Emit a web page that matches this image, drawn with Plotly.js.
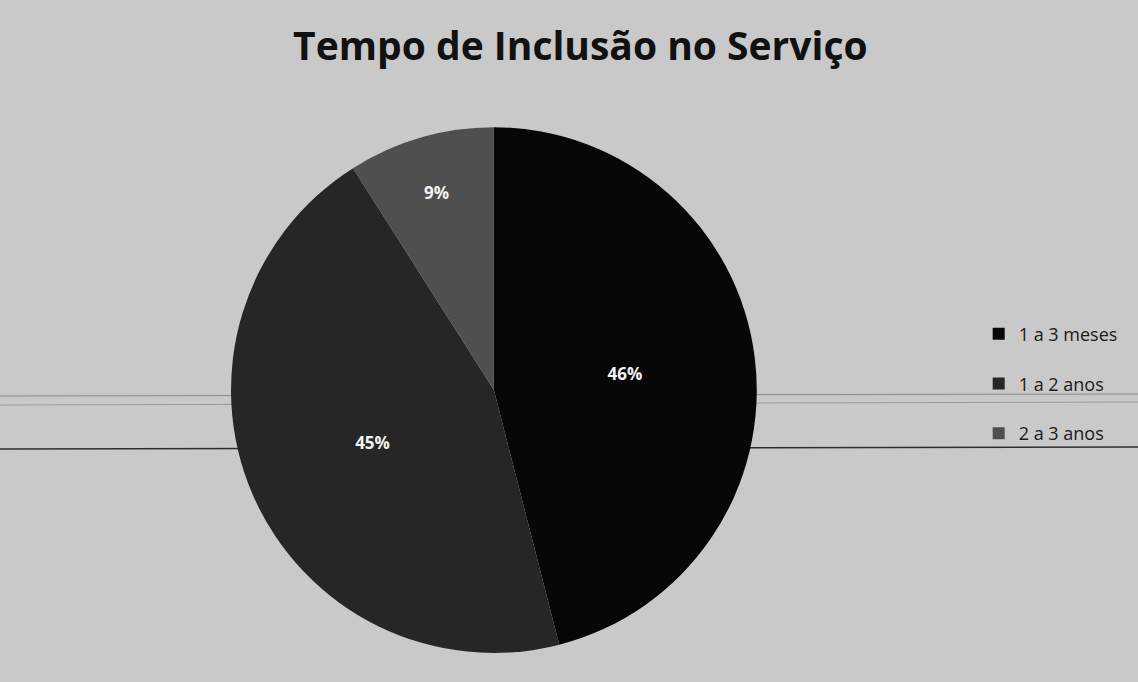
<!DOCTYPE html>
<html>
<head>
<meta charset="utf-8">
<script src="https://cdn.plot.ly/plotly-3.0.1.min.js"></script>
<style>html,body{margin:0;padding:0;background:#c9c9c9;}#chart{width:1138px;height:682px;}</style>
</head>
<body>
<div id="chart"></div>
<script>
const categories = ["1 a 3 meses", "1 a 2 anos", "2 a 3 anos"];
const values = [46, 45, 9];
const sliceColors = ["#070707", "#262626", "#4f4f4f"];
const chartTitle = "Tempo de Inclusão no Serviço";

// legend entries get an empty second line so the entries are spaced like the original
const legendLabels = categories.map(c => c + "<br> ");

const data = [{
  type: "pie",
  labels: legendLabels,
  values: values,
  sort: false,
  direction: "clockwise",
  rotation: 0,
  marker: {colors: sliceColors, line: {width: 0}},
  texttemplate: "%{percent:.0%}",
  textposition: "inside",
  insidetextorientation: "horizontal",
  textfont: {family: "Open Sans, sans-serif", size: 17, color: "#f2f2f2", weight: "bold"},
  domain: {x: [0.203, 0.665], y: [0.042, 0.814]},
  hovertemplate: "%{customdata}: %{percent:.0%}<extra></extra>",
  customdata: categories
}];

const layout = {
  width: 1138, height: 682,
  paper_bgcolor: "#c9c9c9",
  plot_bgcolor: "#c9c9c9",
  margin: {l: 0, r: 0, t: 0, b: 0},
  title: {
    text: "<b>" + chartTitle + "</b>",
    font: {family: "Open Sans, sans-serif", size: 39, color: "#111"},
    x: 0.51, xanchor: "center", y: 0.932, yanchor: "middle"
  },
  showlegend: true,
  legend: {
    x: 0.86, xanchor: "left", y: 0.42, yanchor: "middle",
    font: {family: "Open Sans, sans-serif", size: 18, color: "#1a1a1a"},
    bgcolor: "rgba(0,0,0,0)",
    itemwidth: 30,
    valign: "top"
  },
  shapes: [
    {type: "line", xref: "paper", yref: "paper", x0: 0, x1: 1, y0: 1 - 449/682, y1: 1 - 447/682, line: {color: "#2e2e2e", width: 1.5}, layer: "below"},
    {type: "line", xref: "paper", yref: "paper", x0: 0, x1: 1, y0: 1 - 396/682, y1: 1 - 394/682, line: {color: "#8a8a8a", width: 1}, layer: "below"},
    {type: "line", xref: "paper", yref: "paper", x0: 0, x1: 1, y0: 1 - 405/682, y1: 1 - 402/682, line: {color: "#9a9a9a", width: 1}, layer: "below"}
  ]
};

Plotly.newPlot("chart", data, layout, {displayModeBar: false});
</script>
</body>
</html>
